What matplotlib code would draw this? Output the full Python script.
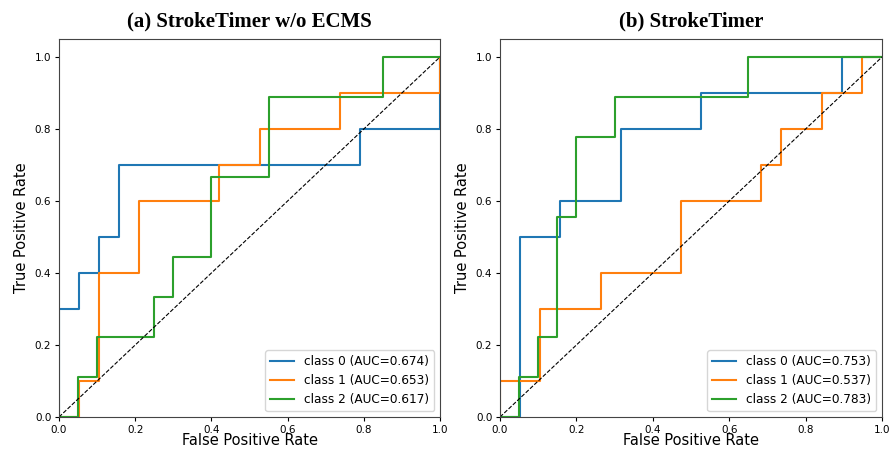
import matplotlib
matplotlib.use("Agg")
import matplotlib.pyplot as plt

titles = ["(a) StrokeTimer w/o ECMS", "(b) StrokeTimer"]
class_names = ["class 0", "class 1", "class 2"]
colors = ["#1f77b4", "#ff7f0e", "#2ca02c"]

# Panel (a)
a_auc = [0.674, 0.653, 0.617]
a_fpr0 = [0.0, 0.0, 0.0526, 0.0526, 0.1053, 0.1053, 0.1579, 0.1579, 0.7895, 0.7895, 1.0, 1.0]
a_tpr0 = [0.0, 0.3, 0.3, 0.4, 0.4, 0.5, 0.5, 0.7, 0.7, 0.8, 0.8, 1.0]
a_fpr1 = [0.0, 0.0526, 0.0526, 0.1053, 0.1053, 0.2105, 0.2105, 0.4211, 0.4211, 0.5263, 0.5263, 0.7368, 0.7368, 1.0, 1.0]
a_tpr1 = [0.0, 0.0, 0.1, 0.1, 0.4, 0.4, 0.6, 0.6, 0.7, 0.7, 0.8, 0.8, 0.9, 0.9, 1.0]
a_fpr2 = [0.0, 0.05, 0.05, 0.10, 0.10, 0.25, 0.25, 0.30, 0.30, 0.40, 0.40, 0.55, 0.55, 0.85, 0.85, 1.0]
a_tpr2 = [0.0, 0.0, 0.1111, 0.1111, 0.2222, 0.2222, 0.3333, 0.3333, 0.4444, 0.4444, 0.6667, 0.6667, 0.8889, 0.8889, 1.0, 1.0]

# Panel (b)
b_auc = [0.753, 0.537, 0.783]
b_fpr0 = [0.0, 0.0526, 0.0526, 0.1579, 0.1579, 0.3158, 0.3158, 0.5263, 0.5263, 0.8947, 0.8947, 1.0]
b_tpr0 = [0.0, 0.0, 0.5, 0.5, 0.6, 0.6, 0.8, 0.8, 0.9, 0.9, 1.0, 1.0]
b_fpr1 = [0.0, 0.0, 0.1053, 0.1053, 0.2632, 0.2632, 0.4737, 0.4737, 0.6842, 0.6842, 0.7368, 0.7368, 0.8421, 0.8421, 0.9474, 0.9474, 1.0]
b_tpr1 = [0.0, 0.1, 0.1, 0.3, 0.3, 0.4, 0.4, 0.6, 0.6, 0.7, 0.7, 0.8, 0.8, 0.9, 0.9, 1.0, 1.0]
b_fpr2 = [0.0, 0.05, 0.05, 0.10, 0.10, 0.15, 0.15, 0.20, 0.20, 0.30, 0.30, 0.65, 0.65, 1.0]
b_tpr2 = [0.0, 0.0, 0.1111, 0.1111, 0.2222, 0.2222, 0.5556, 0.5556, 0.7778, 0.7778, 0.8889, 0.8889, 1.0, 1.0]

panels = [
    (titles[0], [(a_fpr0, a_tpr0), (a_fpr1, a_tpr1), (a_fpr2, a_tpr2)], a_auc),
    (titles[1], [(b_fpr0, b_tpr0), (b_fpr1, b_tpr1), (b_fpr2, b_tpr2)], b_auc),
]

fig = plt.figure(figsize=(8.94, 4.49), dpi=100)
rects = [
    [59 / 894, 32 / 449, 381 / 894, 378 / 449],
    [500 / 894, 32 / 449, 382 / 894, 378 / 449],
]

for rect, (title, curves, aucs) in zip(rects, panels):
    ax = fig.add_axes(rect)
    for (fpr, tpr), name, auc, c in zip(curves, class_names, aucs, colors):
        ax.plot(fpr, tpr, color=c, lw=1.5, label=f"{name} (AUC={auc:.3f})")
    ax.plot([0, 1], [0, 1], color="black", lw=0.8, ls="--")
    ax.set_xlim(0, 1)
    ax.set_ylim(0, 1.05)
    ax.set_xticks([0, 0.2, 0.4, 0.6, 0.8, 1.0])
    ax.set_yticks([0, 0.2, 0.4, 0.6, 0.8, 1.0])
    ax.tick_params(labelsize=7.5, length=3, pad=2.5)
    ax.set_xlabel("False Positive Rate", fontsize=10.5, labelpad=-1)
    ax.set_ylabel("True Positive Rate", fontsize=10.5, labelpad=4)
    ax.set_title(title, fontsize=15, fontweight="bold", family="Liberation Serif", pad=9)
    ax.legend(loc="lower right", fontsize=8.7)
    for s in ax.spines.values():
        s.set_color("#444444")

fig.savefig("out.png", dpi=100)
